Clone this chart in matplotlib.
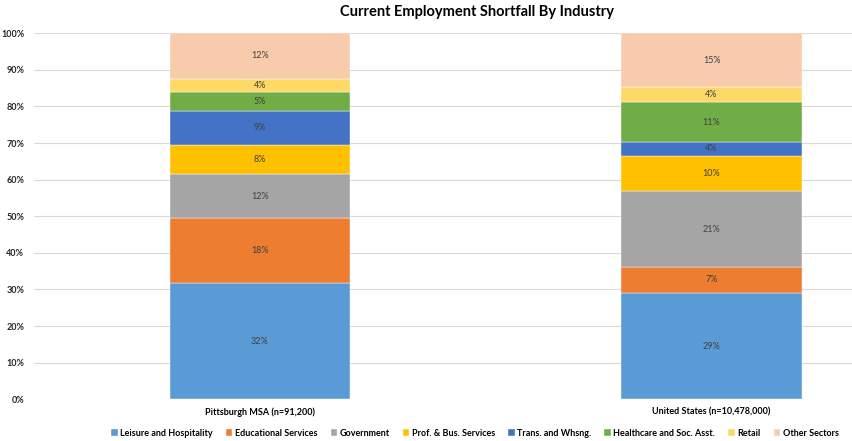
import matplotlib.pyplot as plt
from matplotlib.ticker import PercentFormatter

# categories and values (% of employment shortfall)
regions = ["Pittsburgh MSA (n=91,200)", "United States (n=10,478,000)"]
industries = ["Leisure and Hospitality", "Educational Services", "Government",
              "Prof. & Bus. Services", "Trans. and Whsng.", "Healthcare and Soc. Asst.",
              "Retail", "Other Sectors"]
pittsburgh = [31.7, 17.7, 12.2, 7.9, 9.3, 5.2, 3.6, 12.4]
united_states = [29.0, 7.2, 20.6, 9.8, 3.6, 10.9, 4.1, 14.8]
colors = ["#5B9BD5", "#ED7D31", "#A5A5A5", "#FFC000", "#4472C4", "#70AD47", "#FFD966", "#F8CBAD"]

plt.rcParams['font.family'] = ['Lato', 'DejaVu Sans']

fig = plt.figure(figsize=(8.52, 4.41), dpi=100)
ax = fig.add_axes([34 / 852, 0.0946, (852 - 34) / 852, 0.830])

x = [0, 1]
bottom = [0.0, 0.0]
for i, name in enumerate(industries):
    vals = [pittsburgh[i], united_states[i]]
    bars = ax.bar(x, vals, width=0.4, bottom=bottom, color=colors[i],
                  edgecolor="white", linewidth=0.3, label=name, zorder=3)
    for b, v in zip(bars, vals):
        ax.text(b.get_x() + b.get_width() / 2, b.get_y() + v / 2, "%d%%" % round(v),
                ha="center", va="center", fontsize=6.5, color="#404040", zorder=4)
    bottom = [bottom[0] + vals[0], bottom[1] + vals[1]]

ax.set_xlim(-0.5, 1.311)
ax.set_ylim(0, 100)
ax.set_yticks(range(0, 101, 10))
ax.yaxis.set_major_formatter(PercentFormatter(decimals=0))
ax.set_xticks(x)
ax.set_xticklabels(regions, fontsize=6.5, fontweight="bold", color="black")
ax.tick_params(axis="y", labelsize=6.5, length=0, pad=7, labelcolor="#262626")
ax.tick_params(axis="x", length=0, pad=6)
for lbl in ax.get_yticklabels():
    lbl.set_fontweight("bold")
ax.grid(axis="y", color="#D9D9D9", linewidth=0.8, zorder=0)
for s in ax.spines.values():
    s.set_visible(False)

fig.text(0.56, 0.972, "Current Employment Shortfall By Industry", ha="center", va="center",
         fontsize=10.5, fontweight="bold")

leg = fig.legend(loc="center", bbox_to_anchor=(0.5575, 0.018), ncol=8, frameon=False,
                 fontsize=6.5, handlelength=0.7, handleheight=0.7, handletextpad=0.3,
                 columnspacing=1.45)
for t in leg.get_texts():
    t.set_fontweight("bold")

fig.savefig("out.png", dpi=100)
